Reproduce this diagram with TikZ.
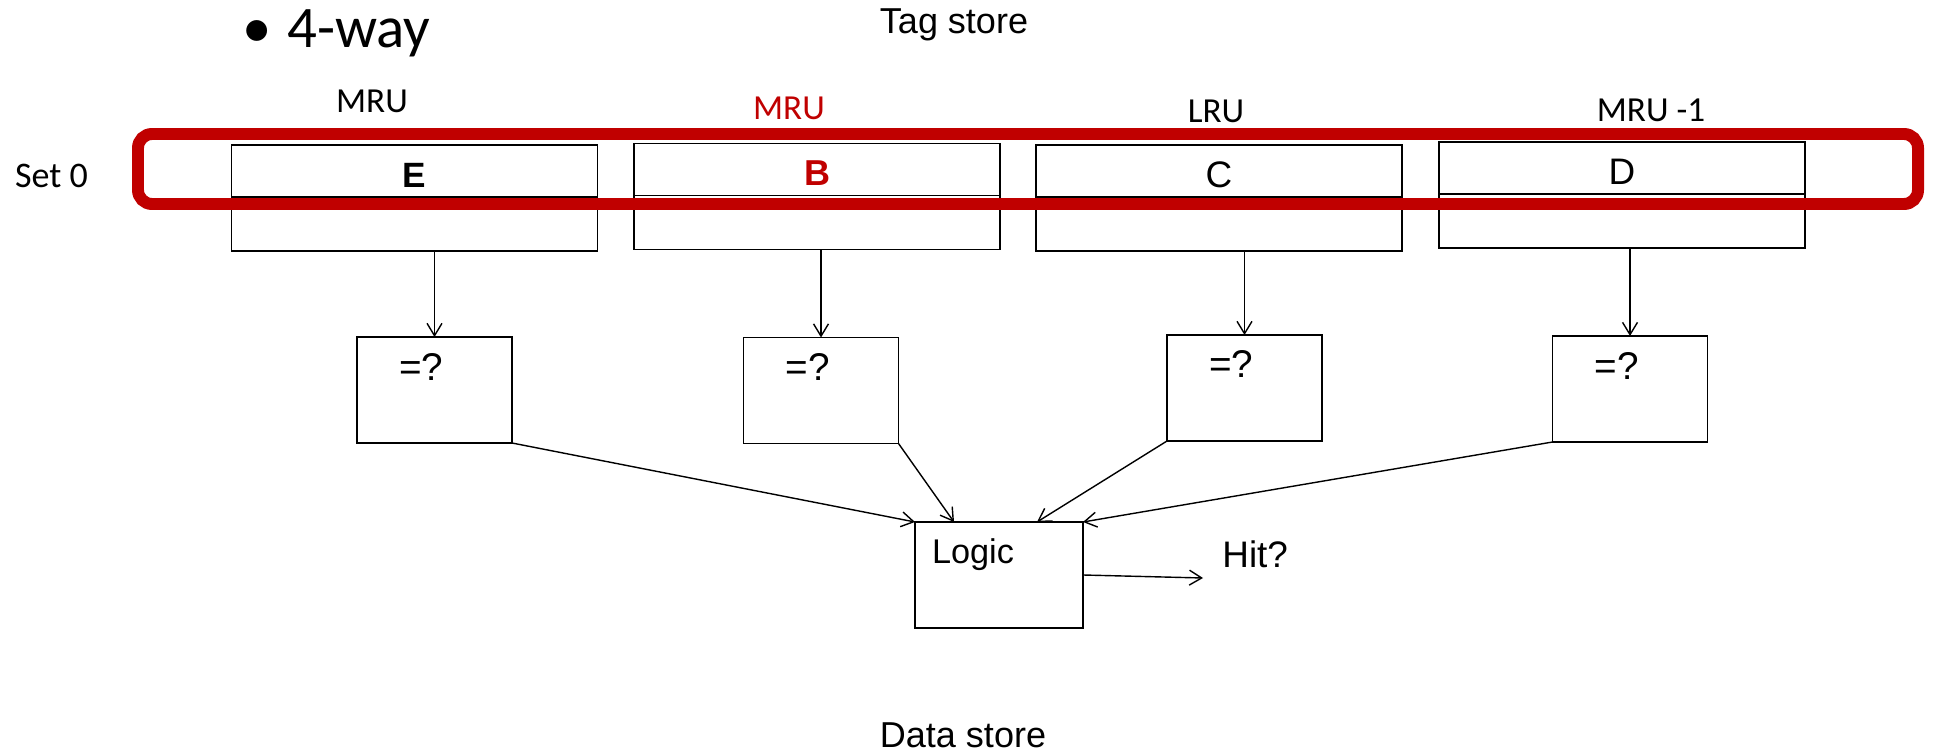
\documentclass[tikz,border=0pt]{standalone}
\usepackage{fontspec}
\setmainfont{Liberation Sans}
\newfontfamily\calibri{Carlito}
\usetikzlibrary{positioning,arrows.meta}
\definecolor{setred}{RGB}{192,0,0}

\begin{document}
\begin{tikzpicture}[
    tagbox/.style={draw, line width=1pt, outer sep=0pt, inner sep=0pt, minimum width=7.32cm, minimum height=1.04cm, text height=0.66cm, text depth=0pt},
    linebox/.style={draw, line width=1pt, outer sep=0pt, inner sep=0pt, minimum width=7.32cm, minimum height=1.08cm},
    cmpbox/.style={draw, line width=1pt, outer sep=0pt, inner xsep=0.84cm, inner ysep=0pt, text width=1.42cm, align=left, text height=0.86cm, text depth=1.26cm, font=\fontsize{22}{26}\selectfont},
    logicbox/.style={draw, line width=1pt, outer sep=0pt, inner xsep=0.34cm, inner ysep=0pt, text width=2.68cm, align=left, text height=0.82cm, text depth=1.30cm, font=\fontsize{19.5}{23}\selectfont},
    waylabel/.style={anchor=base, inner sep=0pt, font=\calibri\fontsize{20}{24}\selectfont},
    storelabel/.style={anchor=base, inner sep=0pt, font=\fontsize{20.5}{24}\selectfont},
    setframe/.style={draw=setred, line width=6.8pt, rounded corners=0.28cm, inner sep=0pt, minimum width=35.6cm, minimum height=1.4cm},
    arr/.style={-{Straight Barb[length=7pt,width=8.5pt]}, line width=0.8pt}
  ]
  \useasboundingbox (0,0) rectangle (38.68,15.06);

  %Headings
  \node[anchor=base west, inner sep=0pt, font=\calibri\fontsize{33.5}{40}\selectfont] (ways) at (4.84,14.10) {•\hspace{9pt}4-way};
  \node[storelabel] (tagstore) at (19.08,14.38) {Tag store};
  \node[storelabel] (datastore) at (19.26,0.12) {Data store};

  %Way labels
  \node[waylabel, font=\calibri\fontsize{20.5}{24}\selectfont] (set) at (1.03,11.30) {Set 0};
  \node[waylabel] (rank1) at (7.44,12.80) {MRU};
  \node[waylabel, text=setred] (rank2) at (15.78,12.66) {MRU};
  \node[waylabel] (rank3) at (24.32,12.60) {LRU};
  \node[waylabel] (rank4) at (33.02,12.62) {MRU -1};

  %Tag store ways
  \node[tagbox, font=\bfseries\fontsize{20}{24}\selectfont] (etag) at (8.29,11.64) {E};
  \node[linebox, below=0pt of etag] (eline) {};
  \node[tagbox, text=setred, font=\bfseries\fontsize{20.5}{24}\selectfont] (btag) at (16.34,11.67) {B};
  \node[linebox, below=0pt of btag] (bline) {};
  \node[tagbox, font=\fontsize{21}{24}\selectfont] (ctag) at (24.38,11.64) {C};
  \node[linebox, below=0pt of ctag] (cline) {};
  \node[tagbox, font=\fontsize{21}{24}\selectfont] (dtag) at (32.44,11.70) {D};
  \node[linebox, below=0pt of dtag] (dline) {};

  %Comparators
  \node[cmpbox] (eq1) at (8.69,7.26) {=?};
  \node[cmpbox] (eq2) at (16.42,7.25) {=?};
  \node[cmpbox] (eq3) at (24.89,7.30) {=?};
  \node[cmpbox] (eq4) at (32.60,7.28) {=?};
  \draw[arr] (eline.south -| eq1.north) -- (eq1.north);
  \draw[arr] (bline.south -| eq2.north) -- (eq2.north);
  \draw[arr] (cline.south -| eq3.north) -- (eq3.north);
  \draw[arr] (dline.south -| eq4.north) -- (eq4.north);

  %Hit logic
  \node[logicbox] (logic) at (19.98,3.56) {Logic};
  \node[anchor=base west, inner sep=0pt, font=\fontsize{21}{25}\selectfont] (hit) at (24.44,3.72) {Hit?};
  \coordinate (hitend) at (24.06,3.50);
  \draw[arr] (eq1.south east) -- (logic.north west);
  \draw[arr] (eq2.south east) -- ([xshift=0.78cm]logic.north west);
  \draw[arr] (eq3.south west) -- ([xshift=-0.92cm]logic.north east);
  \draw[arr] (eq4.south west) -- (logic.north east);
  \draw[arr] (logic.east) -- (hitend);

  %Set 0 frame
  \node[setframe] (frame) at (20.56,11.68) {};

\end{tikzpicture}
\end{document}
